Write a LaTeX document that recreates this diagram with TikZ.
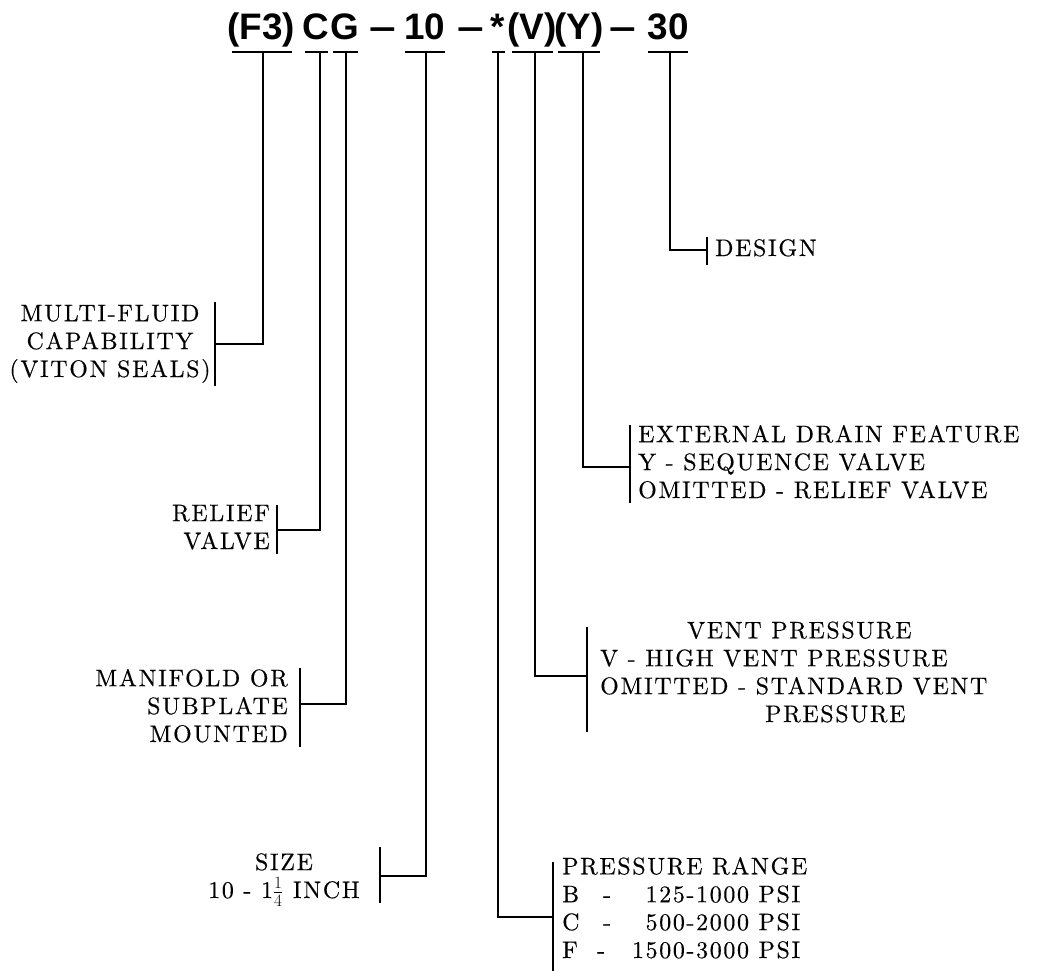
\documentclass[tikz,border=0pt]{standalone}
\usepackage{fontspec}
\setmainfont{lmroman10-regular.otf}[LetterSpace=7, FakeBold=0.4]
\newfontfamily\titlefont{Liberation Sans}[Scale=1]
\begin{document}
\begin{tikzpicture}[x=1bp,y=-1bp,
  lbl/.style={inner sep=0pt, font=\fontsize{24}{28}\selectfont},
  ttl/.style={inner sep=0pt, anchor=base, font=\titlefont\bfseries\fontsize{37}{40}\selectfont},
  conn/.style={line width=1.3bp},
  brk/.style={line width=2.2bp},
  ul/.style={line width=1.5bp}]
\useasboundingbox (0,0) rectangle (1041,971);

% ---- title pieces
\node[ttl] (tF3) at (261,39) {(F3)};
\node[ttl] (tC)  at (316,39) {C};
\node[ttl] (tG)  at (345,39) {G};
\node[ttl, xscale=1.3] (d1)  at (383,39) {–};
\node[ttl] (t10) at (425,39) {10};
\node[ttl, xscale=1.3] (d2)  at (471,39) {–};
\node[ttl] (tS)  at (498,39) {*};
\node[ttl] (tV)  at (532,39) {(V)};
\node[ttl] (tY)  at (579,39) {(Y)};
\node[ttl, xscale=1.3] (d3)  at (623,39) {–};
\node[ttl] (t30) at (668,39) {30};

% ---- underlines
\draw[ul] (232,52) -- (292,52);
\draw[ul] (305,52) -- (328,52);
\draw[ul] (333,52) -- (358,52);
\draw[ul] (405,52) -- (445,52);
\draw[ul] (492,52) -- (505,52);
\draw[ul] (512,52) -- (553,52);
\draw[ul] (558,52) -- (600,52);
\draw[ul] (648,52) -- (688,52);

\coordinate (uF3) at (263,52);
\coordinate (uC)  at (320,52);
\coordinate (uG)  at (346,52);
\coordinate (u10) at (426,52);
\coordinate (uS)  at (498,52);
\coordinate (uV)  at (535,52);
\coordinate (uY)  at (583,52);
\coordinate (u30) at (670,52);

% ---- labels (anchor=base of a multi-line node is its last line)
\node[lbl, align=center, anchor=base] (mf) at (110,377) {MULTI-FLUID\\CAPABILITY\\(VITON SEALS)};
\node[lbl, align=right, anchor=base east] (rv) at (270,549) {RELIEF\\VALVE};
\node[lbl, align=right, anchor=base east] (mo) at (288,742) {MANIFOLD OR\\SUBPLATE\\MOUNTED};
\node[lbl, align=center, anchor=base] (sz) at (284,898) {SIZE\\10 - 1$\frac{1}{4}$ INCH};
\node[lbl, align=left, anchor=base west] (pr) at (562,958) {PRESSURE RANGE\\
  \makebox[238bp][l]{\makebox[41bp][l]{B}-\hfill 125-1000 PSI}\\
  \makebox[238bp][l]{\makebox[41bp][l]{C}-\hfill 500-2000 PSI}\\
  \makebox[238bp][l]{\makebox[35bp][l]{F}-\hfill 1500-3000 PSI}};
\node[lbl, align=left, anchor=base west] (vp) at (600,722) {\hspace*{87bp}VENT PRESSURE\\V - HIGH VENT PRESSURE\\OMITTED - STANDARD VENT\\\hspace*{165bp}PRESSURE};
\node[lbl, align=left, anchor=base west] (ed) at (638,498) {EXTERNAL DRAIN FEATURE\\Y - SEQUENCE VALVE\\OMITTED - RELIEF VALVE};
\node[lbl, anchor=base west] (ds) at (715,256) {DESIGN};

% ---- brackets
\draw[brk] (215,302) -- (215,386);
\draw[brk] (277,505) -- (277,554);
\draw[brk] (300,668) -- (300,747);
\draw[brk] (380,847) -- (380,903);
\draw[brk] (553,862) -- (553,971);
\draw[brk] (587,627) -- (587,732);
\draw[brk] (630,425) -- (630,503);
\draw[brk] (707,237) -- (707,265);

\coordinate (bF3) at (215,344);
\coordinate (bC)  at (277,530);
\coordinate (bG)  at (300,704);
\coordinate (b10) at (380,876);
\coordinate (bS)  at (553,917);
\coordinate (bV)  at (587,676);
\coordinate (bY)  at (630,467);
\coordinate (b30) at (707,250);

% ---- connectors
\draw[conn] (uF3) |- (bF3);
\draw[conn] (uC)  |- (bC);
\draw[conn] (uG)  |- (bG);
\draw[conn] (u10) |- (b10);
\draw[conn] (uS)  |- (bS);
\draw[conn] (uV)  |- (bV);
\draw[conn] (uY)  |- (bY);
\draw[conn] (u30) |- (b30);
\end{tikzpicture}
\end{document}
